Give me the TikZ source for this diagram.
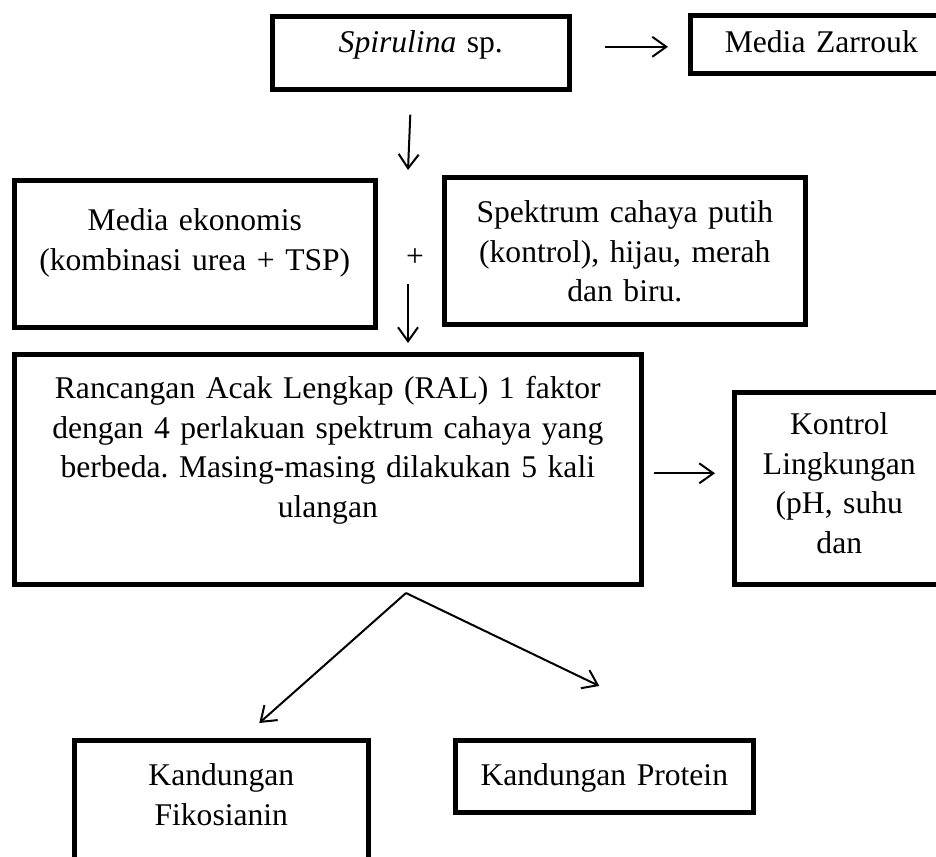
\documentclass[tikz,border=0pt]{standalone}
\usepackage{fontspec}
\setmainfont{Liberation Serif}
\usetikzlibrary{arrows.meta}
\frenchspacing

\begin{document}
\begin{tikzpicture}[x=0.5pt,y=-0.5pt,
    kotak/.style={draw,line width=2.3pt,anchor=north west,align=center,
      inner xsep=0pt,text height=11pt,font=\fontsize{15.8}{19.75}\selectfont},
    panah/.style={line width=1pt,-{Straight Barb[length=7pt,width=10pt]}}]
            \useasboundingbox (0,0) rectangle (936,856);
            \clip (0,0) rectangle (936,856);
            \node (spir) at (270,14) [kotak,text width=148.5pt,inner ysep=7.25pt,text depth=11pt] {\textit{Spirulina} sp.};
            \node (zarr) at (688,13) [kotak,text width=131pt,inner ysep=7.75pt,text depth=2.5pt] {Media Zarrouk};
            \node (ekon) at (12,178) [kotak,text width=180.5pt,inner ysep=14.25pt,text depth=34pt] {Media ekonomis\\(kombinasi urea + TSP)};
            \node (spek) at (442,175) [kotak,text width=180.5pt,inner ysep=11.75pt,text depth=39pt] {Spektrum cahaya putih\\(kontrol), hijau, merah\\dan biru.};
            \node (plus) at (415,258) [font=\fontsize{15.8}{19.75}\selectfont,inner sep=0pt] {+};
            \node (ral) at (12,352) [kotak,text width=313.5pt,inner ysep=11.25pt,text depth=81.5pt] {Rancangan Acak Lengkap (RAL) 1 faktor\\dengan 4 perlakuan spektrum cahaya yang\\berbeda. Masing-masing dilakukan 5 kali\\ulangan};
            \node (kont) at (732,390) [kotak,text width=105pt,inner ysep=10.25pt,text depth=64.5pt] {Kontrol\\Lingkungan\\(pH, suhu\\dan};
            \node (fiko) at (72,738) [kotak,text width=147pt,inner ysep=11.75pt,text depth=36.5pt] {Kandungan\\Fikosianin};
            \node (prot) at (453,738) [kotak,text width=149pt,inner ysep=11.75pt,text depth=1.5pt] {Kandungan Protein};
            \coordinate (masuk) at (408,170);
            \coordinate (cabang) at (406,593);

            \draw[panah,shorten <=16.5pt,shorten >=10pt] ([yshift=3pt]spir.east) -- ([yshift=3pt]spir.east -| zarr.west);
            \draw[panah] ([xshift=-5.25pt,yshift=-11.5pt]spir.south) -- (masuk);
            \draw[panah,shorten <=8.5pt,shorten >=4.5pt] (masuk |- plus.south) -- (masuk |- ral.north);
            \draw[panah,shorten <=5pt,shorten >=8.5pt] ([yshift=-2pt]ral.east) -- ([yshift=-2pt]ral.east -| kont.west);
            \draw[panah] (cabang) -- ([xshift=19pt,yshift=7.5pt]fiko.north);
            \draw[panah] (cabang) -- ([xshift=-2.5pt,yshift=26pt]prot.north);

        \end{tikzpicture}
\end{document}
